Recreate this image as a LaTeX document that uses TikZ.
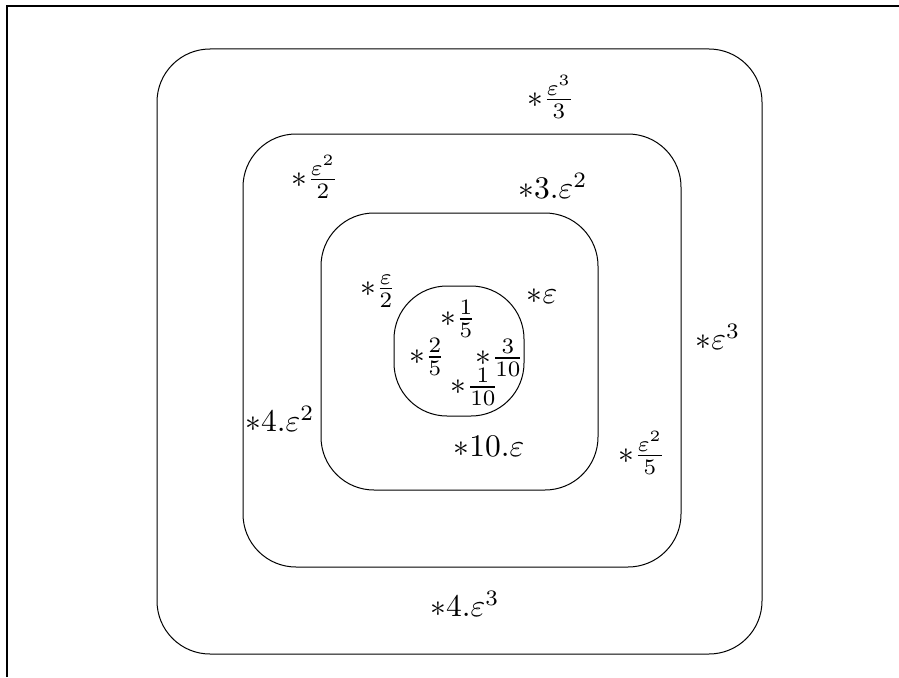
\documentclass[tikz,border=0pt]{standalone}
\usepackage{amsmath}
\begin{document}
\begin{tikzpicture}[x=1pt,y=-1pt,
  region/.style={draw, line width=1pt, rounded corners=53pt},
  lab/.style={scale=3.15, inner sep=0pt}]
\useasboundingbox (0,0) rectangle (899,677);
\draw[line width=1.1pt] (7,677) -- (7,6) -- (899,6);
\draw[region] (157,49) rectangle (762,654);
\draw[region] (243,134) rectangle (681,567);
\draw[region] (321,213) rectangle (598,490);
\draw[region] (394,286) rectangle (524,416);
\node[lab] (a1) at (551,97) {$*\frac{\varepsilon^3}{3}$};
\node[lab] (a2) at (315,177) {$*\frac{\varepsilon^2}{2}$};
\node[lab] (a3) at (553,186) {$*3.\varepsilon^2$};
\node[lab] (a4) at (378,291) {$*\frac{\varepsilon}{2}$};
\node[lab] (a5) at (542,296) {$*\varepsilon$};
\node[lab] (a6) at (458,319) {$*\frac{1}{5}$};
\node[lab] (a7) at (427,357) {$*\frac{2}{5}$};
\node[lab] (a8) at (500,358) {$*\frac{3}{10}$};
\node[lab] (a9) at (475,387) {$*\frac{1}{10}$};
\node[lab] (a10) at (280,419) {$*4.\varepsilon^2$};
\node[lab] (a11) at (489,446) {$*10.\varepsilon$};
\node[lab] (a12) at (642,453) {$*\frac{\varepsilon^2}{5}$};
\node[lab] (a13) at (718,337) {$*\varepsilon^3$};
\node[lab] (a14) at (465,604) {$*4.\varepsilon^3$};
\end{tikzpicture}
\end{document}
